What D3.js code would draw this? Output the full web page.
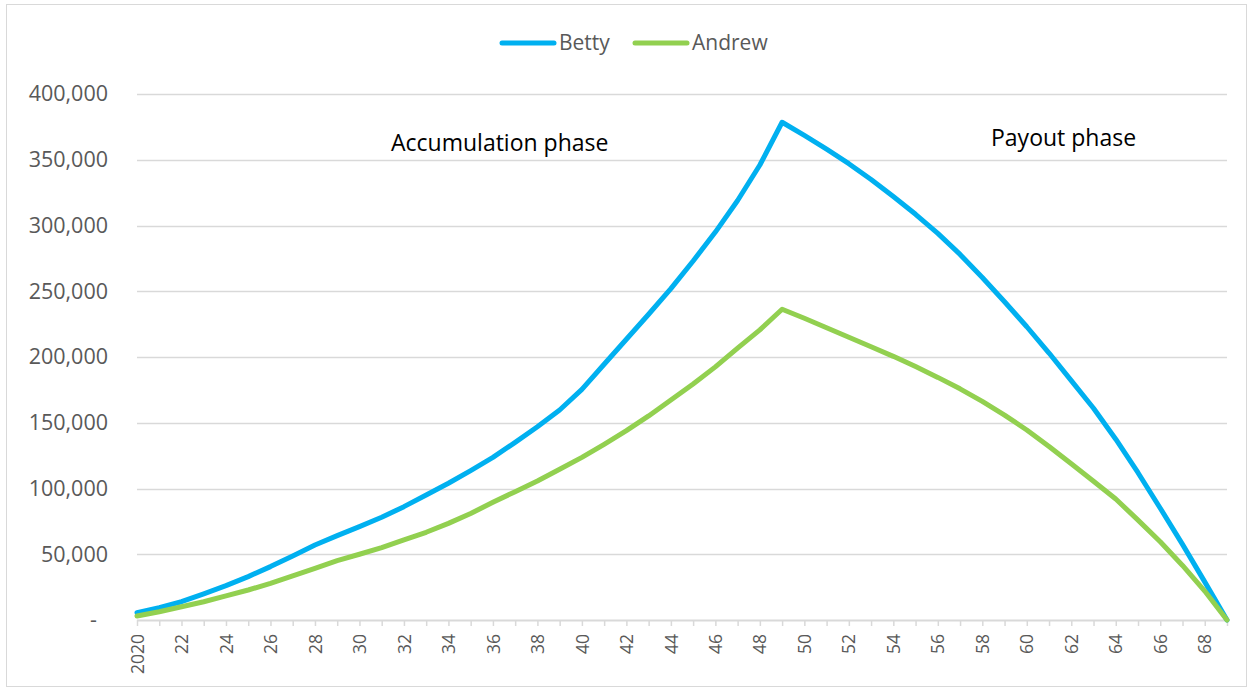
<!DOCTYPE html>
<html>
<head>
<meta charset="utf-8">
<script src="https://cdn.jsdelivr.net/npm/d3@7"></script>
<style>
  html, body { margin: 0; padding: 0; background: #fff; }
  svg { display: block; font-family: "Open Sans", sans-serif; }
</style>
</head>
<body>
<svg id="chart" width="1253" height="691"></svg>
<script>
// Year labels along the x axis (first year in full, then two-digit years)
const years = ["2020","21","22","23","24","25","26","27","28","29",
               "30","31","32","33","34","35","36","37","38","39",
               "40","41","42","43","44","45","46","47","48","49",
               "50","51","52","53","54","55","56","57","58","59",
               "60","61","62","63","64","65","66","67","68","69"];

// Pension pot balance per year
const betty = [5500, 9400, 13900, 19800, 26100, 33000, 40600, 48700, 57000, 64200,
               71000, 78100, 86200, 95100, 104000, 113600, 123700, 135100, 147000, 159700,
               175400, 194500, 213500, 232500, 252000, 273000, 295000, 319000, 346000, 378500,
               368500, 358000, 347000, 335000, 322000, 308500, 294000, 278000, 260500, 242000,
               223000, 203000, 182000, 161000, 137500, 112000, 85000, 57500, 29000, 0];

const andrew = [3000, 6300, 10100, 13900, 18300, 22800, 27900, 33500, 39300, 45100,
                50000, 55000, 60900, 66700, 73500, 81000, 89500, 97600, 105700, 114600,
                123700, 133600, 144000, 155200, 167300, 179500, 192500, 206700, 220600, 236300,
                229500, 222300, 215000, 207800, 200500, 192700, 184500, 175800, 166200, 155800,
                144500, 132000, 118800, 105500, 92000, 76000, 59500, 41500, 22000, 0];

const seriesNames = ["Betty", "Andrew"];
const yTicks = [0, 50000, 100000, 150000, 200000, 250000, 300000, 350000, 400000];
const phaseLabels = ["Accumulation phase", "Payout phase"];

const colors = { Betty: "#00B0F0", Andrew: "#92D050" };
const gridColor = "#d9d9d9";
const labelColor = "#595959";

const svg = d3.select("#chart");

// Chart frame
svg.append("rect")
  .attr("x", 6.5).attr("y", 4.5)
  .attr("width", 1240).attr("height", 682)
  .attr("fill", "#fff")
  .attr("stroke", gridColor)
  .attr("stroke-width", 1);

const plot = { left: 137, right: 1227, top: 94, bottom: 620 };

const x = d3.scalePoint().domain(years).range([plot.left, plot.right]).padding(0);
const y = d3.scaleLinear().domain([0, 400000]).range([plot.bottom, plot.top]);

// Horizontal gridlines
svg.append("g")
  .selectAll("line")
  .data(yTicks.filter(d => d > 0))
  .join("line")
  .attr("x1", plot.left).attr("x2", plot.right)
  .attr("y1", d => Math.round(y(d)) + 0.5)
  .attr("y2", d => Math.round(y(d)) + 0.5)
  .attr("stroke", gridColor)
  .attr("stroke-width", 1.5);

// Y axis labels (no axis line)
const fmt = d3.format(",");
const yAxis = svg.append("g")
  .attr("transform", `translate(${plot.left},0)`)
  .call(d3.axisLeft(y).tickValues(yTicks).tickSize(0).tickPadding(29)
        .tickFormat(d => d === 0 ? "-" : fmt(d)));
yAxis.select(".domain").remove();
yAxis.selectAll("text")
  .attr("fill", labelColor)
  .style("font-size", "21.5px")
  .style("font-family", "'Open Sans', sans-serif")
  .attr("dx", d => d === 0 ? -11 : 0);

// X axis: line, a tick per year, labels every second year
const xAxis = svg.append("g")
  .attr("transform", `translate(0,${plot.bottom})`)
  .call(d3.axisBottom(x).tickSize(6).tickPadding(8)
        .tickFormat((d, i) => i % 2 === 0 ? d : ""));
xAxis.select(".domain")
  .attr("stroke", gridColor).attr("stroke-width", 2)
  .attr("d", `M${plot.left},0.5H${plot.right}`);
xAxis.selectAll(".tick line").attr("stroke", gridColor).attr("stroke-width", 1.5);
xAxis.selectAll(".tick text")
  .attr("fill", labelColor)
  .style("font-size", "17.5px")
  .style("font-family", "'Open Sans', sans-serif")
  .attr("transform", "rotate(-90)")
  .attr("text-anchor", "end")
  .attr("x", -14)
  .attr("y", 0)
  .attr("dy", "0.35em");

// Lines
const line = d3.line()
  .x((d, i) => x(years[i]))
  .y(d => y(d))
  .curve(d3.curveLinear);

const series = [
  { name: "Betty", values: betty },
  { name: "Andrew", values: andrew }
];

svg.append("g")
  .selectAll("path")
  .data(series)
  .join("path")
  .attr("d", d => line(d.values))
  .attr("fill", "none")
  .attr("stroke", d => colors[d.name])
  .attr("stroke-width", 5)
  .attr("stroke-linejoin", "round")
  .attr("stroke-linecap", "round");

// Legend
const legendItems = [
  { name: seriesNames[0], x: 502 },
  { name: seriesNames[1], x: 635 }
];
const legend = svg.append("g").selectAll("g").data(legendItems).join("g")
  .attr("transform", d => `translate(${d.x},43)`);
legend.append("line")
  .attr("x1", 0).attr("x2", 52)
  .attr("stroke", d => colors[d.name])
  .attr("stroke-width", 5)
  .attr("stroke-linecap", "round");
legend.append("text")
  .attr("x", 57).attr("y", 0).attr("dy", "0.35em")
  .attr("fill", labelColor)
  .style("font-size", "21px")
  .text(d => d.name);

// Phase annotations
svg.append("text")
  .attr("x", 391).attr("y", 151)
  .attr("fill", "#000")
  .style("font-size", "23px")
  .text(phaseLabels[0]);
svg.append("text")
  .attr("x", 991).attr("y", 146)
  .attr("fill", "#000")
  .style("font-size", "23px")
  .text(phaseLabels[1]);
</script>
</body>
</html>
